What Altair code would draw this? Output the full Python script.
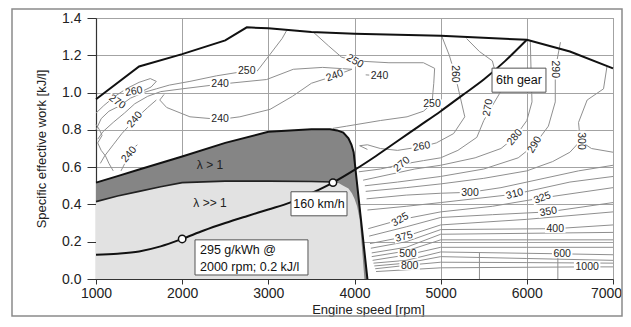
import altair as alt
import pandas as pd

W, H = 517, 261
FONT = "Liberation Sans"

rpm_ticks = [1000, 2000, 3000, 4000, 5000, 6000, 7000]
work_ticks = [0.0, 0.2, 0.4, 0.6, 0.8, 1.0, 1.2, 1.4]

# full-load curve
full_rpm = [1000, 1500, 2000, 2500, 2750, 3000, 3500, 4000, 5000, 6000, 6500, 7000]
full_work = [0.964, 1.14, 1.206, 1.28, 1.35, 1.345, 1.325, 1.315, 1.305, 1.283, 1.22, 1.13]

# 6th gear road load
gear_rpm = [1000, 1250, 1500, 1750, 2000, 2250, 2500, 2750, 3000, 3250, 3500, 3750,
            4000, 4250, 4500, 4750, 5000, 5250, 5500, 5750, 6000]
gear_work = [0.13, 0.136, 0.148, 0.175, 0.215, 0.26, 0.30, 0.337, 0.373, 0.41, 0.46, 0.517,
             0.585, 0.66, 0.74, 0.82, 0.90, 0.985, 1.07, 1.17, 1.283]

# lambda > 1 upper boundary
lean_rpm = [1000, 1250, 1500, 1750, 2000, 2500, 3000, 3500, 3715, 3800, 3870, 3930, 3965, 3990, 4070, 4150]
lean_work = [0.517, 0.552, 0.587, 0.622, 0.657, 0.73, 0.79, 0.803, 0.803, 0.797, 0.785, 0.755, 0.72, 0.68, 0.34, 0.0]

# lambda >> 1 upper boundary
ultra_rpm = [1000, 1250, 1500, 1750, 2000, 2500, 3000, 3500, 3750, 3820, 3870, 3930, 3970, 4000, 4030, 4060, 4090, 4115]
ultra_work = [0.415, 0.445, 0.47, 0.495, 0.517, 0.525, 0.525, 0.523, 0.52, 0.513, 0.50, 0.485, 0.46, 0.43, 0.39, 0.32, 0.15, 0.0]

# operating points
point_rpm = [2000, 3750]
point_work = [0.215, 0.517]

# BSFC contour lines [g/kWh] as (rpm, kJ/l) points
c_left_hook = [(1000, 0.89), (1090, 0.93), (1220, 0.98), (1350, 1.02), (1500, 1.055), (1630, 1.075),
               (1700, 1.06), (1640, 1.03), (1550, 1.01)]
c_250_upper = [(1000, 0.80), (1060, 0.86), (1150, 0.90), (1280, 0.93), (1400, 0.97), (1550, 1.0),
               (1700, 1.02), (1850, 1.04), (2090, 1.06), (2400, 1.09), (2670, 1.11), (2870, 1.115),
               (3020, 1.205), (3160, 1.29), (3215, 1.335)]
c_240_island = [(1020, 0.75), (1080, 0.79), (1200, 0.84), (1330, 0.89), (1450, 0.94), (1600, 0.98),
                (1750, 1.005), (2000, 1.02), (2440, 1.045), (2980, 1.07), (3290, 1.125), (3630, 1.135),
                (3970, 1.125), (3770, 1.09), (3500, 1.05), (3280, 0.98), (3020, 0.91), (2670, 0.87),
                (2440, 0.856), (2090, 0.87), (1820, 0.92), (1740, 0.96), (1790, 0.99)]
c_240_diag = [(1050, 0.62), (1100, 0.66), (1200, 0.72), (1300, 0.78), (1450, 0.855), (1600, 0.92), (1700, 0.96)]
c_left_edge = [(1000, 0.83), (1040, 0.80), (1070, 0.77), (1020, 0.73), (1060, 0.69), (1110, 0.66),
               (1150, 0.62), (1200, 0.58)]
c_240_low = [(1290, 0.58), (1340, 0.625), (1385, 0.668), (1430, 0.70), (1480, 0.72)]
c_240_small = [(4130, 1.095), (4200, 1.093)]
c_250_right = [(3520, 1.325), (3700, 1.25), (3850, 1.19), (4005, 1.17), (4400, 1.16), (4800, 1.16),
               (4930, 1.13), (4920, 1.05), (4910, 1.0), (4900, 0.94), (4800, 0.90), (4610, 0.87),
               (4300, 0.85), (3910, 0.82), (3750, 0.808)]
c_260 = [(5015, 1.30), (5100, 1.20), (5165, 1.10), (5225, 0.98), (5280, 0.87), (5150, 0.78),
         (4950, 0.73), (4780, 0.71), (4500, 0.69), (4300, 0.70), (4150, 0.72), (4060, 0.715), (4150, 0.695)]
c_270 = [(5300, 1.29), (5450, 1.22), (5600, 1.17), (5650, 1.08), (5690, 1.0), (5600, 0.93), (5500, 0.85),
         (5420, 0.76), (5200, 0.69), (5000, 0.65), (4800, 0.635), (4550, 0.615), (4300, 0.59), (4050, 0.575)]
c_280 = [(4100, 0.53), (4400, 0.56), (4700, 0.59), (5000, 0.61), (5400, 0.65), (5700, 0.70), (5860, 0.76),
         (6000, 0.85), (6060, 0.95), (6050, 1.1), (6040, 1.28)]
c_290 = [(4120, 0.50), (4500, 0.52), (5000, 0.55), (5500, 0.59), (5900, 0.65), (6090, 0.72), (6250, 0.82),
         (6330, 0.95), (6330, 1.125), (6390, 1.27)]
c_295 = [(4130, 0.47), (4600, 0.49), (5000, 0.51), (5500, 0.54), (6000, 0.58), (6300, 0.63), (6500, 0.68),
         (6620, 0.74)]
c_300_v = [(6930, 1.14), (6890, 1.02), (6700, 0.96), (6600, 0.84), (6620, 0.74), (6750, 0.70), (7000, 0.68)]
c_300 = [(4140, 0.43), (4600, 0.45), (5000, 0.46), (5340, 0.465), (5700, 0.49), (6200, 0.54), (6600, 0.58),
         (7000, 0.61)]
c_310 = [(4150, 0.37), (4600, 0.39), (5000, 0.41), (5860, 0.455), (6500, 0.52), (7000, 0.55)]
c_325 = [(4160, 0.27), (4530, 0.318), (5000, 0.36), (5600, 0.39), (6180, 0.435), (7000, 0.49)]
c_350 = [(4170, 0.23), (4600, 0.28), (5000, 0.33), (5600, 0.345), (6250, 0.36), (7000, 0.41)]
c_375 = [(4180, 0.19), (4575, 0.226), (5000, 0.29), (6000, 0.32), (7000, 0.36)]
c_400 = [(4190, 0.165), (4600, 0.20), (5000, 0.265), (6330, 0.27), (7000, 0.29)]
c_450 = [(4200, 0.14), (4600, 0.17), (5000, 0.24), (6000, 0.245), (7000, 0.25)]
c_475 = [(4200, 0.12), (4600, 0.15), (5000, 0.21), (6000, 0.21), (7000, 0.21)]
c_500 = [(4210, 0.10), (4620, 0.13), (5000, 0.17), (6000, 0.17), (7000, 0.17)]
c_600 = [(4220, 0.085), (4600, 0.10), (5000, 0.145), (6410, 0.135), (7000, 0.13)]
c_700 = [(4230, 0.07), (4600, 0.085), (5000, 0.12), (6000, 0.11), (7000, 0.10)]
c_800 = [(4240, 0.055), (4640, 0.075), (5000, 0.09), (6000, 0.088), (7000, 0.085)]
c_1000 = [(4250, 0.04), (5000, 0.06), (6700, 0.065), (7000, 0.065)]
c_stub_a = [(5450, 0.14), (5450, 0.0)]
c_stub_b = [(6360, 0.12), (6360, 0.0)]

contour_lines = [c_left_hook, c_250_upper, c_240_island, c_240_diag, c_left_edge, c_240_low, c_240_small,
                 c_250_right, c_260, c_270, c_280, c_290, c_295, c_300_v, c_300, c_310, c_325, c_350,
                 c_375, c_400, c_450, c_475, c_500, c_600, c_700, c_800, c_1000, c_stub_a, c_stub_b]

# contour labels
lab_text = ["250", "240", "240", "260", "270", "240", "240", "250", "240", "240", "260", "250", "260",
            "270", "270", "290", "280", "290", "300", "300", "310", "325", "350", "400", "600", "1000",
            "325", "375", "500", "800"]
lab_rpm = [2750, 2440, 2440, 1440, 1245, 1450, 1385, 4005, 3770, 4290, 5165, 4900, 4780,
           5550, 4550, 6330, 5860, 6090, 6630, 5340, 5860, 6180, 6250, 6330, 6410, 6700,
           4530, 4575, 4620, 4640]
lab_work = [1.115, 1.045, 0.856, 1.005, 0.95, 0.855, 0.668, 1.168, 1.09, 1.09, 1.10, 0.94, 0.71,
            0.92, 0.615, 1.125, 0.76, 0.72, 0.74, 0.463, 0.455, 0.435, 0.36, 0.27, 0.135, 0.065,
            0.318, 0.226, 0.135, 0.072]
lab_angle = [0, 0, 0, 350, 35, 310, 310, 30, 340, 0, 90, 0, 350,
             280, 320, 90, 310, 300, 90, 0, 345, 340, 350, 0, 0, 0,
             330, 345, 0, 0]

# annotation boxes
box_rpm = [2149, 3263, 5596]
box_rpm2 = [3460, 3913, 6222]
box_work = [0.0215, 0.339, 1.002]
box_work2 = [0.21, 0.468, 1.131]
box_text = ["", "160 km/h", "6th gear"]
box_text_rpm = [0, 3588, 5909]
box_text_work = [0, 0.404, 1.066]

note_lines = ["295 g/kWh @", "2000 rpm; 0.2 kJ/l"]
note_rpm = [2207, 2207]
note_work = [0.156, 0.065]

region_text = ["\u03bb > 1", "\u03bb >> 1"]
region_rpm = [2323, 2323]
region_work = [0.614, 0.409]

# ---------- tables ----------
rows = []
for cid, pts in enumerate(contour_lines):
    for i, (r, w) in enumerate(pts):
        rows.append({"cid": cid, "i": i, "rpm": r, "work": w})
contour_df = pd.DataFrame(rows)

full_df = pd.DataFrame({"rpm": full_rpm, "work": full_work, "i": range(len(full_rpm))})
gear_df = pd.DataFrame({"rpm": gear_rpm, "work": gear_work})
lean_df = pd.DataFrame({"rpm": lean_rpm, "work": lean_work, "i": range(len(lean_rpm))})
ultra_df = pd.DataFrame({"rpm": ultra_rpm, "work": ultra_work})
ultra_line_df = ultra_df[ultra_df.rpm <= 3760]
pt_df = pd.DataFrame({"rpm": point_rpm, "work": point_work})
lab_df = pd.DataFrame({"t": lab_text, "rpm": lab_rpm, "work": lab_work, "ang": lab_angle})
lab_df["n"] = lab_df.t.str.len()
box_df = pd.DataFrame({"rpm": box_rpm, "rpm2": box_rpm2, "work": box_work, "work2": box_work2})
box_txt_df = pd.DataFrame({"t": box_text, "rpm": box_text_rpm, "work": box_text_work})
box_txt_df = box_txt_df[box_txt_df.t != ""]
note_df = pd.DataFrame({"t": note_lines, "rpm": note_rpm, "work": note_work})
region_df = pd.DataFrame({"t": region_text, "rpm": region_rpm, "work": region_work})

# ---------- encodings ----------
xs = alt.Scale(domain=[1000, 7000], nice=False, zero=False)
ys = alt.Scale(domain=[0, 1.4], nice=False)
x_axis = alt.Axis(values=rpm_ticks, format="d", title="Engine speed [rpm]",
                  labelFontSize=14, labelPadding=2, labelFlush=False, tickSize=5,
                  labelOffset={"condition": {"test": "datum.value == 7000", "value": -7}, "value": 0},
                  titleFontSize=13, titlePadding=3, titleX=272)
y_axis = alt.Axis(values=work_ticks, format=".1f", title="Specific effective work  [kJ/l]",
                  labelFontSize=14, labelPadding=6, tickSize=9, labelFlush=False,
                  titleFontSize=13, titlePadding=13)
X = alt.X("rpm:Q", scale=xs, axis=x_axis)
Y = alt.Y("work:Q", scale=ys, axis=y_axis)

frame = alt.Chart(pd.DataFrame({"a": [0]})).mark_rect(
    fillOpacity=0, stroke="#8a8a8a", strokeWidth=1.5
).encode(x=alt.value(-84), x2=alt.value(526), y=alt.value(-9), y2=alt.value(298))

contours = alt.Chart(contour_df).mark_line(color="#8f8f8f", strokeWidth=1).encode(
    x=X, y=Y, detail="cid:N", order="i:Q")

dark = alt.Chart(lean_df).mark_area(color="#858585", opacity=1).encode(x=X, y=Y)
light = alt.Chart(ultra_df).mark_area(color="#e2e2e2", opacity=1).encode(x=X, y=Y)

# white gaps in the contour lines behind the labels (rotated with the label)
gap_shape = "M-1,-0.42L1,-0.42L1,0.42L-1,0.42Z"
gap3 = alt.Chart(lab_df[lab_df.n == 3]).mark_point(
    shape=gap_shape, filled=True, fill="white", strokeWidth=0, opacity=1, size=420
).encode(x=X, y=Y, angle=alt.Angle("ang:Q", scale=None))
gap4 = alt.Chart(lab_df[lab_df.n == 4]).mark_point(
    shape=gap_shape, filled=True, fill="white", strokeWidth=0, opacity=1, size=700
).encode(x=X, y=Y, angle=alt.Angle("ang:Q", scale=None))
lab_txt = alt.Chart(lab_df).mark_text(font=FONT, fontSize=10.5, color="#262626").encode(
    x=X, y=Y, text="t:N", angle=alt.Angle("ang:Q", scale=None))

full_line = alt.Chart(full_df).mark_line(color="#111", strokeWidth=2).encode(x=X, y=Y, order="i:Q")
lean_line = alt.Chart(lean_df).mark_line(color="#111", strokeWidth=2).encode(x=X, y=Y, order="i:Q")
ultra_line = alt.Chart(ultra_line_df).mark_line(color="#222", strokeWidth=1.6).encode(x=X, y=Y)
gear_line = alt.Chart(gear_df).mark_line(color="#111", strokeWidth=2, interpolate="monotone").encode(x=X, y=Y)

pts = alt.Chart(pt_df).mark_point(shape="circle", filled=True, fill="white", stroke="#111",
                                  strokeWidth=1.5, size=55, opacity=1).encode(x=X, y=Y)

boxes = alt.Chart(box_df).mark_rect(fill="white", stroke="#555", strokeWidth=1).encode(
    x=X, x2="rpm2:Q", y=Y, y2="work2:Q")
box_txt = alt.Chart(box_txt_df).mark_text(font=FONT, fontSize=12.5, color="#111").encode(
    x=X, y=Y, text="t:N")
note_txt = alt.Chart(note_df).mark_text(font=FONT, fontSize=12.5, color="#111", align="left").encode(
    x=X, y=Y, text="t:N")
region_txt = alt.Chart(region_df).mark_text(font=FONT, fontSize=12, color="#222").encode(
    x=X, y=Y, text="t:N")

chart = alt.layer(
    frame, contours, dark, light, gap3, gap4, lab_txt, ultra_line, lean_line, full_line, gear_line,
    pts, boxes, box_txt, note_txt, region_txt
).properties(
    width=W, height=H,
    padding={"left": 88, "top": 10, "right": 10, "bottom": 39},
    autosize=alt.AutoSizeParams(type="none"),
    background="white",
).configure_view(stroke="#8a8a8a", strokeWidth=1).configure_axis(
    labelFont=FONT, titleFont=FONT, labelColor="#222", titleColor="#222",
    titleFontWeight="normal", gridColor="#a3a3a3", gridWidth=1,
    domainColor="#333", tickColor="#333", domainWidth=1.2,
)

chart.save("out.html", embed_options={"renderer": "svg", "actions": False})
